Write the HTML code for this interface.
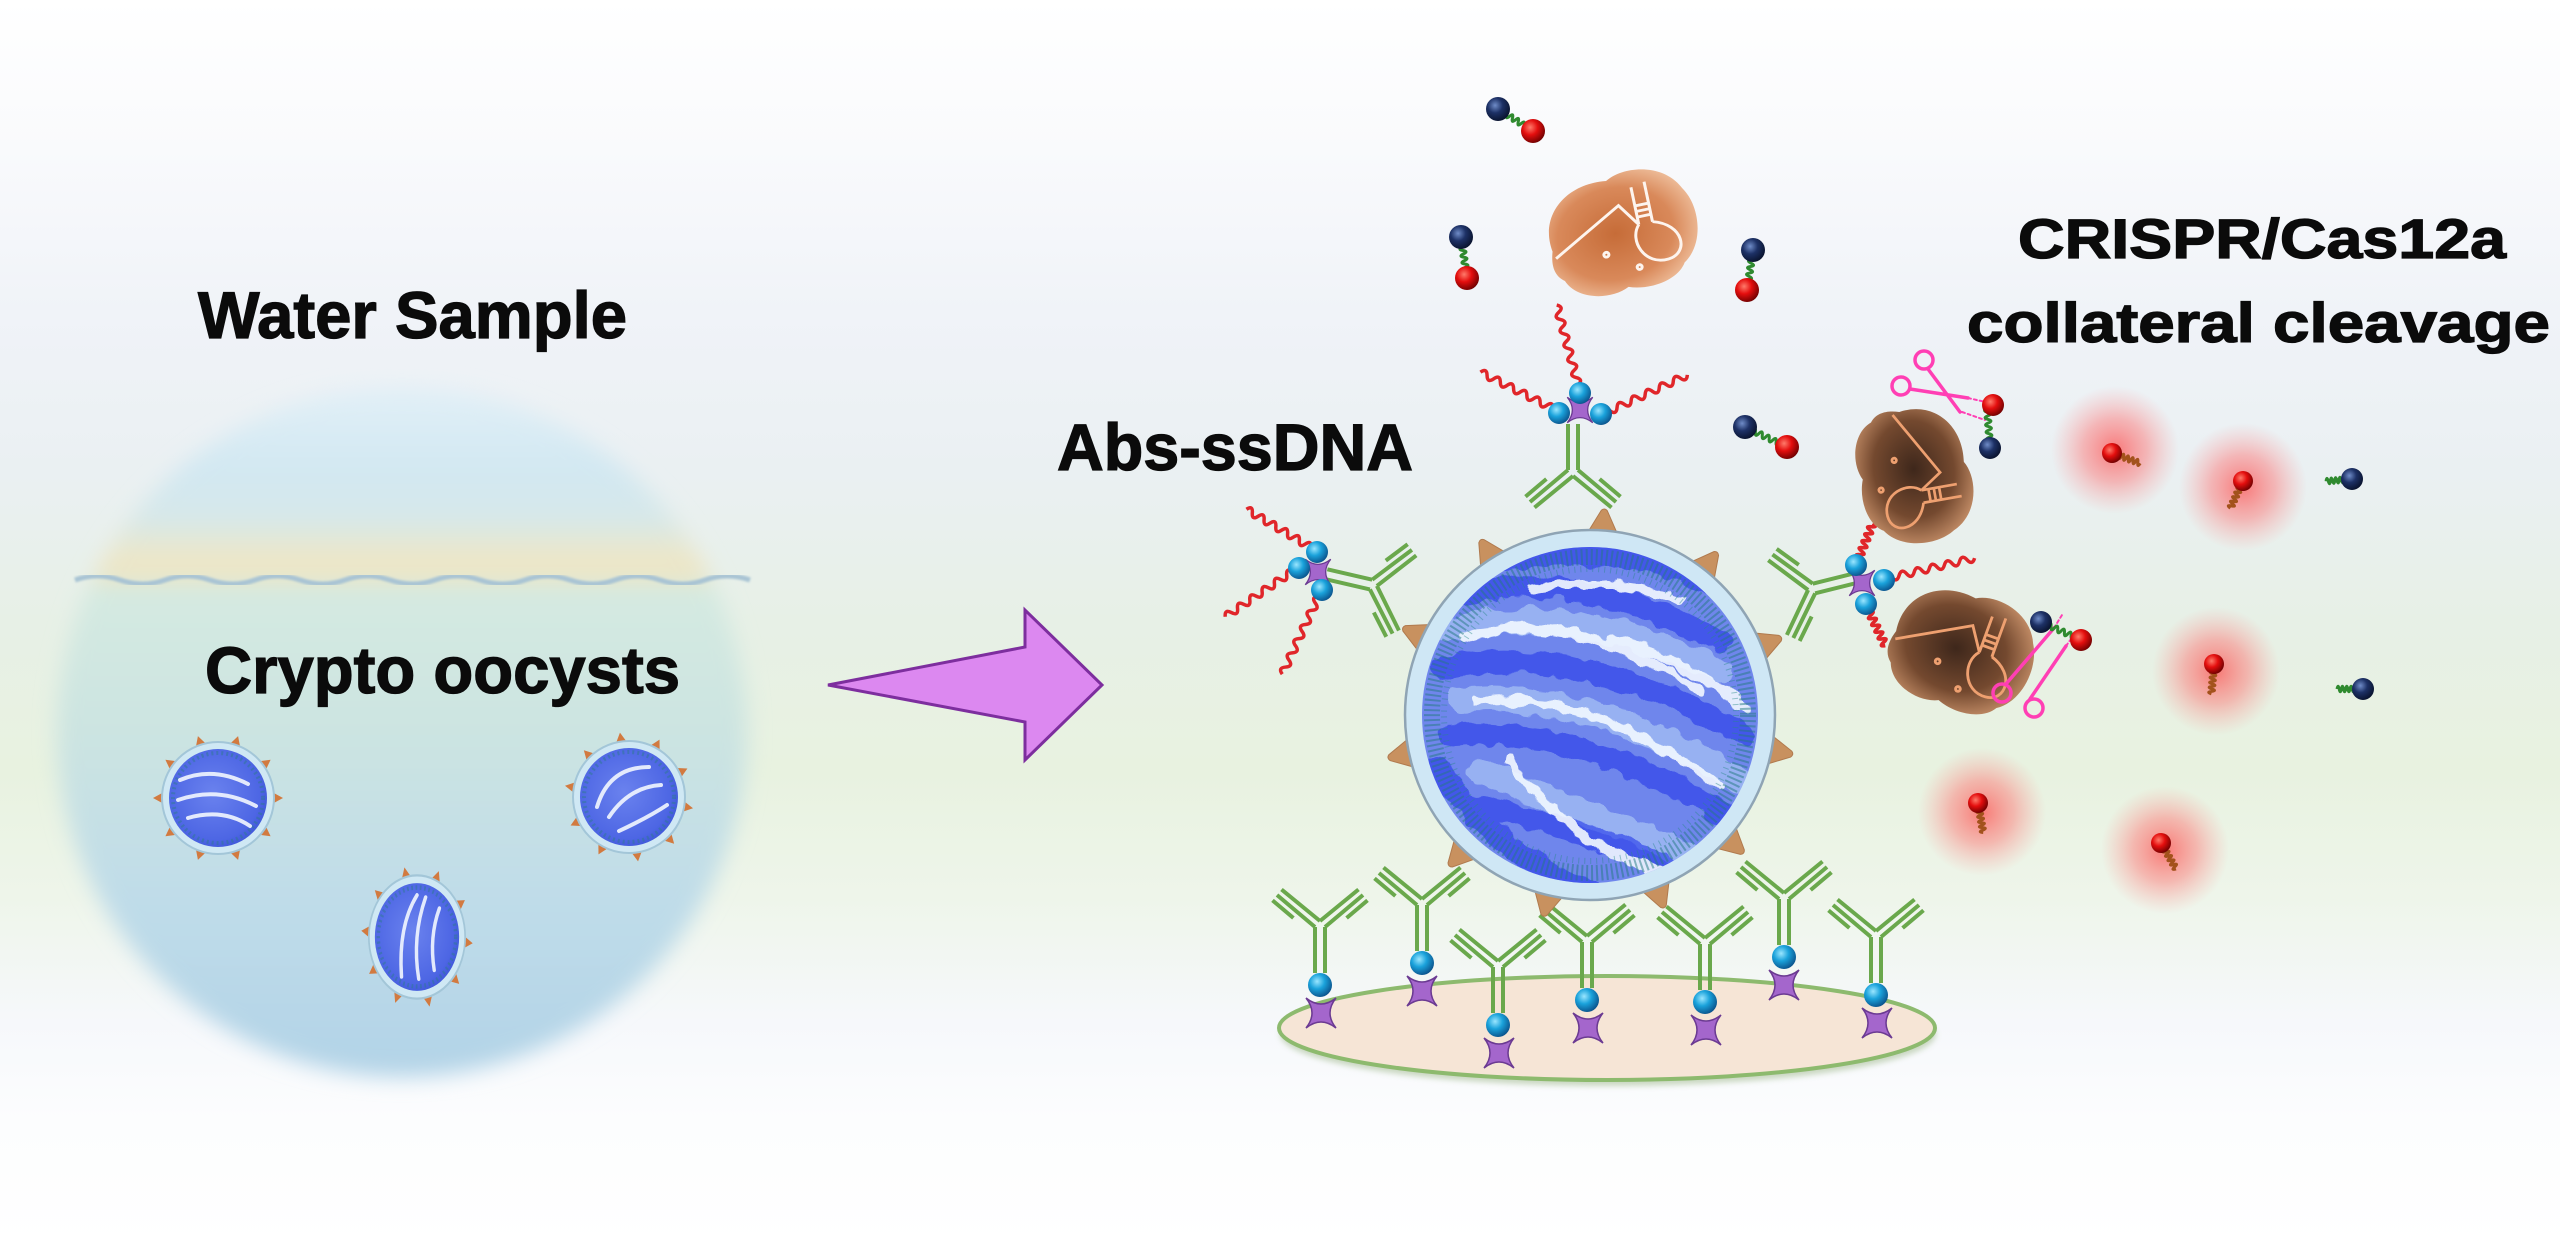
<!DOCTYPE html>
<html>
<head>
<meta charset="utf-8">
<style>
html,body{margin:0;padding:0;background:#fff;}
svg{display:block;}
text{font-family:"Liberation Sans",Arial,sans-serif;font-weight:bold;fill:#0b0b0b;stroke:#0b0b0b;stroke-width:1.3px;}
</style>
</head>
<body>
<svg width="2560" height="1245" viewBox="0 0 2560 1245" xmlns="http://www.w3.org/2000/svg">
<defs>
  <linearGradient id="bg" x1="0" y1="0" x2="0" y2="1">
    <stop offset="0" stop-color="#ffffff"/>
    <stop offset="0.12" stop-color="#f9fafc"/>
    <stop offset="0.25" stop-color="#f0f3f8"/>
    <stop offset="0.38" stop-color="#eaf0f2"/>
    <stop offset="0.50" stop-color="#e7f0e6"/>
    <stop offset="0.62" stop-color="#e8f2e0"/>
    <stop offset="0.72" stop-color="#eef5ea"/>
    <stop offset="0.82" stop-color="#f6f8fb"/>
    <stop offset="0.90" stop-color="#fcfdfe"/>
    <stop offset="1" stop-color="#ffffff"/>
  </linearGradient>
  <linearGradient id="bowl" gradientUnits="userSpaceOnUse" x1="0" y1="387" x2="0" y2="1077">
    <stop offset="0" stop-color="#e2f0f7"/>
    <stop offset="0.12" stop-color="#d2e8f2"/>
    <stop offset="0.19" stop-color="#d6e8ea"/>
    <stop offset="0.24" stop-color="#eae7cc"/>
    <stop offset="0.275" stop-color="#efe5c2"/>
    <stop offset="0.29" stop-color="#d5eae1"/>
    <stop offset="0.5" stop-color="#cce4e1"/>
    <stop offset="0.75" stop-color="#bfdce9"/>
    <stop offset="1" stop-color="#b2d3e7"/>
  </linearGradient>
  <filter id="soft" x="-10%" y="-10%" width="120%" height="120%">
    <feGaussianBlur stdDeviation="11"/>
  </filter>
  <filter id="blur1"><feGaussianBlur stdDeviation="1"/></filter>
  <filter id="blur3" x="-20%" y="-50%" width="140%" height="200%"><feGaussianBlur stdDeviation="3"/></filter>
  <filter id="rag" x="-10%" y="-10%" width="120%" height="120%">
    <feTurbulence type="fractalNoise" baseFrequency="0.06" numOctaves="2" seed="3" result="n"/>
    <feDisplacementMap in="SourceGraphic" in2="n" scale="14" xChannelSelector="R" yChannelSelector="G"/>
  </filter>
  <radialGradient id="glow">
    <stop offset="0" stop-color="#ff4040" stop-opacity="0.68"/>
    <stop offset="0.5" stop-color="#ff6464" stop-opacity="0.42"/>
    <stop offset="1" stop-color="#ff8a8a" stop-opacity="0"/>
  </radialGradient>
  <radialGradient id="redball" cx="0.38" cy="0.35" r="0.7">
    <stop offset="0" stop-color="#ff7a6a"/>
    <stop offset="0.45" stop-color="#e40e0e"/>
    <stop offset="1" stop-color="#6a0000"/>
  </radialGradient>
  <radialGradient id="blueball" cx="0.38" cy="0.35" r="0.7">
    <stop offset="0" stop-color="#6f8cc8"/>
    <stop offset="0.45" stop-color="#1d3166"/>
    <stop offset="1" stop-color="#08112a"/>
  </radialGradient>
  <radialGradient id="biotin" cx="0.38" cy="0.35" r="0.7">
    <stop offset="0" stop-color="#9ae6ff"/>
    <stop offset="0.45" stop-color="#1aa2db"/>
    <stop offset="1" stop-color="#0a4f88"/>
  </radialGradient>
  <radialGradient id="casLight" cx="0.45" cy="0.5" r="0.6">
    <stop offset="0" stop-color="#c66c38"/>
    <stop offset="0.65" stop-color="#d9895a"/>
    <stop offset="1" stop-color="#f0c2a0"/>
  </radialGradient>
  <radialGradient id="casDark" cx="0.45" cy="0.5" r="0.6">
    <stop offset="0" stop-color="#3e271b"/>
    <stop offset="0.6" stop-color="#74492f"/>
    <stop offset="1" stop-color="#c8916a"/>
  </radialGradient>
  <radialGradient id="oocIn" cx="0.45" cy="0.45" r="0.6">
    <stop offset="0" stop-color="#6a82ee"/>
    <stop offset="0.8" stop-color="#4d66e4"/>
    <stop offset="1" stop-color="#3e56d8"/>
  </radialGradient>
  <clipPath id="bigclip"><circle cx="1590" cy="715" r="168"/></clipPath>

  <path id="sq" fill="none" vector-effect="non-scaling-stroke" d="M0,0 q4.17,-7 8.33,0 t8.33,0 t8.33,0 t8.33,0 t8.33,0 t8.33,0 t8.33,0 t8.33,0 t8.33,0 t8.33,0 t8.33,0 t8.33,0"/>
  <path id="spk" d="M-3,-6 L8,0 L-3,6Z" fill="#d27a40"/>
  <path id="bspk" d="M-8,-15 L15,-3 Q18,0 15,3 L-8,15 Q-12,0 -8,-15Z" fill="#c8915f" stroke="#b07a4e" stroke-width="1"/>
  <path id="star" d="M-15,-15 Q-3,0 -15,15 Q0,3 15,15 Q3,0 15,-15 Q0,-3 -15,-15Z" fill="#a466cc" stroke="#6b3a92" stroke-width="1.5"/>
  <g id="ab" stroke="#6aa84c" stroke-width="4" fill="none">
    <path d="M-5,2 V48 M5,2 V48"/>
    <path d="M-5,2 L-43,-30 M0,-4 L-38.5,-35.5 M-26.6,-7 L-47.5,-24.6"/>
    <path d="M5,2 L43,-30 M0,-4 L38.5,-35.5 M26.6,-7 L47.5,-24.6"/>
  </g>
  <path id="casShape" d="M-72,5 C-78,-35 -45,-62 -5,-56 C15,-68 55,-62 68,-32 C82,-10 78,30 55,45 C45,62 15,66 -5,58 C-25,68 -58,60 -66,38 C-76,30 -76,18 -72,5Z"/>
  <g id="crr" fill="none" stroke-width="3">
    <path d="M-70,13 L2,-28 L18,-4 M18,-44 V-4 M32,-47 V-4 M18,-24 H32 M18,-18 H32 M18,-12 H32 M18,-4 C5,10 15,40 40,38 C62,36 62,5 32,-4"/>
    <circle cx="-20" cy="20" r="2.5"/>
    <circle cx="10" cy="40" r="2.5"/>
  </g>
</defs>

<!-- background -->
<rect width="2560" height="1245" fill="url(#bg)"/>

<!-- bowl -->
<circle cx="402" cy="732" r="345" fill="url(#bowl)" filter="url(#soft)"/>
<path d="M75,580 q22,-8 45,0 t45,0 t45,0 t45,0 t45,0 t45,0 t45,0 t45,0 t45,0 t45,0 t45,0 t45,0 t45,0 t45,0 t45,0" fill="none" stroke="#a9c4d4" stroke-width="5" filter="url(#blur1)"/>

<!-- left oocysts -->
<g transform="translate(218,798)">
  <use href="#spk" transform="rotate(0) translate(57,0)"/><use href="#spk" transform="rotate(36) translate(57,0)"/><use href="#spk" transform="rotate(72) translate(57,0)"/><use href="#spk" transform="rotate(108) translate(57,0)"/><use href="#spk" transform="rotate(144) translate(57,0)"/><use href="#spk" transform="rotate(180) translate(57,0)"/><use href="#spk" transform="rotate(216) translate(57,0)"/><use href="#spk" transform="rotate(252) translate(57,0)"/><use href="#spk" transform="rotate(288) translate(57,0)"/><use href="#spk" transform="rotate(324) translate(57,0)"/>
  <circle r="56" fill="#cfe8f4" stroke="#a3c6d8" stroke-width="2"/>
  <circle r="49" fill="url(#oocIn)"/>
  <circle r="45" fill="none" stroke="#2d7a90" stroke-width="4" stroke-dasharray="2 3" opacity="0.5"/>
  <g fill="none" stroke="#f2f7ff" stroke-width="4" stroke-linecap="round" opacity="0.9">
    <path d="M-38,-18 Q-5,-32 30,-14"/>
    <path d="M-40,2 Q0,-12 38,8"/>
    <path d="M-30,20 Q5,10 32,28"/>
  </g>
</g>
<g transform="translate(629,797)">
  <use href="#spk" transform="rotate(10) translate(57,0)"/><use href="#spk" transform="rotate(46) translate(57,0)"/><use href="#spk" transform="rotate(82) translate(57,0)"/><use href="#spk" transform="rotate(118) translate(57,0)"/><use href="#spk" transform="rotate(154) translate(57,0)"/><use href="#spk" transform="rotate(190) translate(57,0)"/><use href="#spk" transform="rotate(226) translate(57,0)"/><use href="#spk" transform="rotate(262) translate(57,0)"/><use href="#spk" transform="rotate(298) translate(57,0)"/><use href="#spk" transform="rotate(334) translate(57,0)"/>
  <circle r="56" fill="#cfe8f4" stroke="#a3c6d8" stroke-width="2"/>
  <circle r="49" fill="url(#oocIn)"/>
  <circle r="45" fill="none" stroke="#2d7a90" stroke-width="4" stroke-dasharray="2 3" opacity="0.5"/>
  <g fill="none" stroke="#f2f7ff" stroke-width="4" stroke-linecap="round" opacity="0.9">
    <path d="M-32,10 Q-20,-30 20,-30"/>
    <path d="M-20,20 Q0,-10 32,-12"/>
    <path d="M-10,34 Q20,20 38,8"/>
  </g>
</g>
<g transform="translate(417,937) scale(0.86,1.1)">
  <use href="#spk" transform="rotate(5) translate(57,0)"/><use href="#spk" transform="rotate(41) translate(57,0)"/><use href="#spk" transform="rotate(77) translate(57,0)"/><use href="#spk" transform="rotate(113) translate(57,0)"/><use href="#spk" transform="rotate(149) translate(57,0)"/><use href="#spk" transform="rotate(185) translate(57,0)"/><use href="#spk" transform="rotate(221) translate(57,0)"/><use href="#spk" transform="rotate(257) translate(57,0)"/><use href="#spk" transform="rotate(293) translate(57,0)"/><use href="#spk" transform="rotate(329) translate(57,0)"/>
  <circle r="56" fill="#cfe8f4" stroke="#a3c6d8" stroke-width="2"/>
  <circle r="49" fill="url(#oocIn)"/>
  <circle r="45" fill="none" stroke="#2d7a90" stroke-width="4" stroke-dasharray="2 3" opacity="0.5"/>
  <g fill="none" stroke="#f2f7ff" stroke-width="4" stroke-linecap="round" opacity="0.9">
    <path d="M-18,36 Q-22,-10 0,-38"/>
    <path d="M2,38 Q-6,0 10,-36"/>
    <path d="M20,30 Q14,0 26,-26"/>
  </g>
</g>

<!-- labels -->
<text x="198" y="338" font-size="66" textLength="429" lengthAdjust="spacingAndGlyphs">Water Sample</text>
<text x="205" y="693" font-size="66" textLength="475" lengthAdjust="spacingAndGlyphs">Crypto oocysts</text>
<text x="1057" y="470" font-size="66" textLength="356" lengthAdjust="spacingAndGlyphs">Abs-ssDNA</text>
<text x="2018" y="258" font-size="56" textLength="488" lengthAdjust="spacingAndGlyphs">CRISPR/Cas12a</text>
<text x="1967" y="342" font-size="56" textLength="583" lengthAdjust="spacingAndGlyphs">collateral cleavage</text>

<!-- arrow -->
<polygon points="828,685 1025,647 1025,610 1102,685 1025,760 1025,722" fill="#dc88f0" stroke="#7d2e9e" stroke-width="3" stroke-linejoin="miter"/>

<!-- plate -->
<ellipse cx="1608" cy="1034" rx="328" ry="52" fill="#a9bf98" opacity="0.6" filter="url(#blur3)"/>
<ellipse cx="1607" cy="1028" rx="328" ry="52" fill="#f6e5d6" stroke="#8dba6e" stroke-width="4"/>

<!-- plate antibodies -->
<g>
  <use href="#ab" transform="translate(1320,925)"/>
  <use href="#ab" transform="translate(1422,903)"/>
  <use href="#ab" transform="translate(1498,965)"/>
  <use href="#ab" transform="translate(1587,940)"/>
  <use href="#ab" transform="translate(1705,942)"/>
  <use href="#ab" transform="translate(1784,897)"/>
  <use href="#ab" transform="translate(1876,935)"/>
  <use href="#star" transform="translate(1321,1013)"/>
  <use href="#star" transform="translate(1422,991)"/>
  <use href="#star" transform="translate(1499,1053)"/>
  <use href="#star" transform="translate(1588,1028)"/>
  <use href="#star" transform="translate(1706,1030)"/>
  <use href="#star" transform="translate(1784,985)"/>
  <use href="#star" transform="translate(1877,1023)"/>
  <circle cx="1320" cy="985" r="12" fill="url(#biotin)"/>
  <circle cx="1422" cy="963" r="12" fill="url(#biotin)"/>
  <circle cx="1498" cy="1025" r="12" fill="url(#biotin)"/>
  <circle cx="1587" cy="1000" r="12" fill="url(#biotin)"/>
  <circle cx="1705" cy="1002" r="12" fill="url(#biotin)"/>
  <circle cx="1784" cy="957" r="12" fill="url(#biotin)"/>
  <circle cx="1876" cy="995" r="12" fill="url(#biotin)"/>
</g>

<!-- ssDNA strands -->
<g stroke="#e0262a" stroke-width="3.5">
  <use href="#sq" transform="translate(1580,392) rotate(-105) scale(0.9,1)"/>
  <use href="#sq" transform="translate(1560,412) rotate(206.6) scale(0.89,1)"/>
  <use href="#sq" transform="translate(1603,414) rotate(-24.9) scale(0.93,1)"/>
  <use href="#sq" transform="translate(1317,551) rotate(210.6) scale(0.82,1)"/>
  <use href="#sq" transform="translate(1299,567) rotate(146) scale(0.89,1)"/>
  <use href="#sq" transform="translate(1322,589) rotate(115) scale(0.94,1)"/>
  <use href="#sq" transform="translate(1856,565) rotate(-68) scale(0.45,1)"/>
  <use href="#sq" transform="translate(1884,579) rotate(-13) scale(0.93,1)"/>
  <use href="#sq" transform="translate(1866,605) rotate(64.6) scale(0.45,1)"/>
</g>

<!-- oocyst-bound antibodies -->
<use href="#ab" transform="translate(1573,472) rotate(180)"/>
<use href="#ab" transform="translate(1373,585) rotate(103)"/>
<use href="#ab" transform="translate(1812,589) rotate(256)"/>

<!-- clusters -->
<use href="#star" transform="translate(1580,410) scale(0.85)"/>
<circle cx="1580" cy="393" r="11" fill="url(#biotin)"/>
<circle cx="1559" cy="413" r="11" fill="url(#biotin)"/>
<circle cx="1601" cy="414" r="11" fill="url(#biotin)"/>
<use href="#star" transform="translate(1318,572) scale(0.85)"/>
<circle cx="1317" cy="552" r="11" fill="url(#biotin)"/>
<circle cx="1299" cy="568" r="11" fill="url(#biotin)"/>
<circle cx="1322" cy="590" r="11" fill="url(#biotin)"/>
<use href="#star" transform="translate(1862,583) scale(0.85)"/>
<circle cx="1856" cy="565" r="11" fill="url(#biotin)"/>
<circle cx="1884" cy="580" r="11" fill="url(#biotin)"/>
<circle cx="1866" cy="604" r="11" fill="url(#biotin)"/>

<!-- big oocyst -->
<g>
  <use href="#bspk" transform="translate(1590,715) rotate(-86) translate(190,0)"/>
  <use href="#bspk" transform="translate(1590,715) rotate(-122) translate(190,0)"/>
  <use href="#bspk" transform="translate(1590,715) rotate(-52) translate(190,0)"/>
  <use href="#bspk" transform="translate(1590,715) rotate(-155) translate(190,0)"/>
  <use href="#bspk" transform="translate(1590,715) rotate(-22) translate(190,0)"/>
  <use href="#bspk" transform="translate(1590,715) rotate(168) translate(190,0)"/>
  <use href="#bspk" transform="translate(1590,715) rotate(11) translate(190,0)"/>
  <use href="#bspk" transform="translate(1590,715) rotate(133) translate(190,0)"/>
  <use href="#bspk" transform="translate(1590,715) rotate(42) translate(190,0)"/>
  <use href="#bspk" transform="translate(1590,715) rotate(103) translate(190,0)"/>
  <use href="#bspk" transform="translate(1590,715) rotate(69) translate(190,0)"/>
  <circle cx="1590" cy="715" r="185" fill="#cfe7f5" stroke="#8fa4b4" stroke-width="2.5"/>
  <circle cx="1590" cy="715" r="168" fill="#6f86ec"/>
  <g clip-path="url(#bigclip)">
    <g filter="url(#rag)">
      <g fill="none" stroke="#a9c3f6" stroke-width="26" stroke-linecap="round" opacity="0.7">
        <path d="M1450,630 Q1570,600 1720,670"/>
        <path d="M1460,700 Q1590,690 1740,780"/>
        <path d="M1480,770 Q1580,810 1700,860"/>
      </g>
      <g fill="none" stroke="#2c40ea" stroke-width="22" stroke-linecap="round" opacity="0.65">
        <path d="M1440,600 Q1560,560 1720,640"/>
        <path d="M1440,668 Q1580,640 1745,735"/>
        <path d="M1450,735 Q1590,725 1740,825"/>
        <path d="M1470,805 Q1580,825 1700,880"/>
        <path d="M1440,770 Q1500,860 1600,895"/>
        <path d="M1500,560 Q1620,540 1730,590"/>
      </g>
      <g fill="none" stroke="#f2f8ff" stroke-width="9" stroke-linecap="round" opacity="0.9">
        <path d="M1462,638 Q1565,605 1700,690"/>
        <path d="M1475,702 Q1590,690 1718,785"/>
        <path d="M1508,760 Q1565,840 1660,872"/>
        <path d="M1610,640 Q1690,660 1745,710"/>
        <path d="M1530,590 Q1610,575 1680,600"/>
      </g>
    </g>
    <circle cx="1590" cy="715" r="158" fill="none" stroke="#237a80" stroke-width="16" stroke-dasharray="2 3" opacity="0.5"/>
    <circle cx="1590" cy="715" r="146" fill="none" stroke="#2a8a8a" stroke-width="6" stroke-dasharray="1 5" opacity="0.45"/>
  </g>
</g>

<!-- Cas12a proteins -->
<g transform="translate(1622,232) rotate(-12) scale(1.0,0.95)">
  <use href="#casShape" fill="url(#casLight)"/>
  <use href="#crr" stroke="#fdf4ee" fill="none"/>
</g>
<g transform="translate(1915,475) rotate(80) scale(0.9)">
  <use href="#casShape" fill="url(#casDark)"/>
  <use href="#crr" stroke="#eea070" fill="none"/>
</g>
<g transform="translate(1962,650) rotate(20) scale(0.95)">
  <use href="#casShape" fill="url(#casDark)"/>
  <use href="#crr" stroke="#eea070" fill="none"/>
</g>

<!-- glows -->
<circle cx="2115" cy="450" r="64" fill="url(#glow)"/>
<circle cx="2243" cy="487" r="64" fill="url(#glow)"/>
<circle cx="2216" cy="671" r="64" fill="url(#glow)"/>
<circle cx="1982" cy="812" r="64" fill="url(#glow)"/>
<circle cx="2165" cy="850" r="64" fill="url(#glow)"/>

<!-- scissors -->
<g fill="none" stroke="#ff3fb4" stroke-width="3.5" stroke-linecap="round">
  <circle cx="1924" cy="360" r="9"/>
  <circle cx="1901" cy="386" r="9"/>
  <path d="M1928,369 L1960,412 M1910,389 L1968,398"/>
  <path d="M1962,412 L1985,420 M1968,398 L1990,403" stroke-width="2" stroke-dasharray="3 3"/>
  <circle cx="2002" cy="693" r="9"/>
  <circle cx="2034" cy="708" r="9"/>
  <path d="M2006,684 L2054,628 M2030,699 L2066,646"/>
  <path d="M2054,628 L2062,615 M2066,646 L2076,632" stroke-width="2" stroke-dasharray="3 3"/>
</g>

<!-- reporters -->
<g stroke="#2f8a2f" stroke-width="3">
  <use href="#sq" transform="translate(1498,109) rotate(32) scale(0.41,0.8)"/>
  <use href="#sq" transform="translate(1461,237) rotate(81.7) scale(0.41,0.8)"/>
  <use href="#sq" transform="translate(1753,250) rotate(98.5) scale(0.40,0.8)"/>
  <use href="#sq" transform="translate(1745,427) rotate(25.5) scale(0.46,0.8)"/>
  <use href="#sq" transform="translate(1990,448) rotate(-94) scale(0.43,0.8)"/>
  <use href="#sq" transform="translate(2041,622) rotate(24) scale(0.44,0.8)"/>
  <use href="#sq" transform="translate(2352,479) rotate(175) scale(0.26,0.8)"/>
  <use href="#sq" transform="translate(2363,689) rotate(180) scale(0.26,0.8)"/>
</g>
<g stroke="#a3521c" stroke-width="3">
  <use href="#sq" transform="translate(2112,453) rotate(20) scale(0.3,0.8)"/>
  <use href="#sq" transform="translate(2243,481) rotate(115) scale(0.3,0.8)"/>
  <use href="#sq" transform="translate(2214,664) rotate(95) scale(0.3,0.8)"/>
  <use href="#sq" transform="translate(1978,803) rotate(80) scale(0.3,0.8)"/>
  <use href="#sq" transform="translate(2161,843) rotate(60) scale(0.3,0.8)"/>
</g>
<g>
  <circle cx="1498" cy="109" r="12" fill="url(#blueball)"/>
  <circle cx="1533" cy="131" r="12" fill="url(#redball)"/>
  <circle cx="1461" cy="237" r="12" fill="url(#blueball)"/>
  <circle cx="1467" cy="278" r="12" fill="url(#redball)"/>
  <circle cx="1753" cy="250" r="12" fill="url(#blueball)"/>
  <circle cx="1747" cy="290" r="12" fill="url(#redball)"/>
  <circle cx="1745" cy="427" r="12" fill="url(#blueball)"/>
  <circle cx="1787" cy="447" r="12" fill="url(#redball)"/>
  <circle cx="1993" cy="405" r="11" fill="url(#redball)"/>
  <circle cx="1990" cy="448" r="11" fill="url(#blueball)"/>
  <circle cx="2041" cy="622" r="11" fill="url(#blueball)"/>
  <circle cx="2081" cy="640" r="11" fill="url(#redball)"/>
  <circle cx="2112" cy="453" r="10" fill="url(#redball)"/>
  <circle cx="2243" cy="481" r="10" fill="url(#redball)"/>
  <circle cx="2214" cy="664" r="10" fill="url(#redball)"/>
  <circle cx="1978" cy="803" r="10" fill="url(#redball)"/>
  <circle cx="2161" cy="843" r="10" fill="url(#redball)"/>
  <circle cx="2352" cy="479" r="11" fill="url(#blueball)"/>
  <circle cx="2363" cy="689" r="11" fill="url(#blueball)"/>
</g>
</svg>
</body>
</html>
